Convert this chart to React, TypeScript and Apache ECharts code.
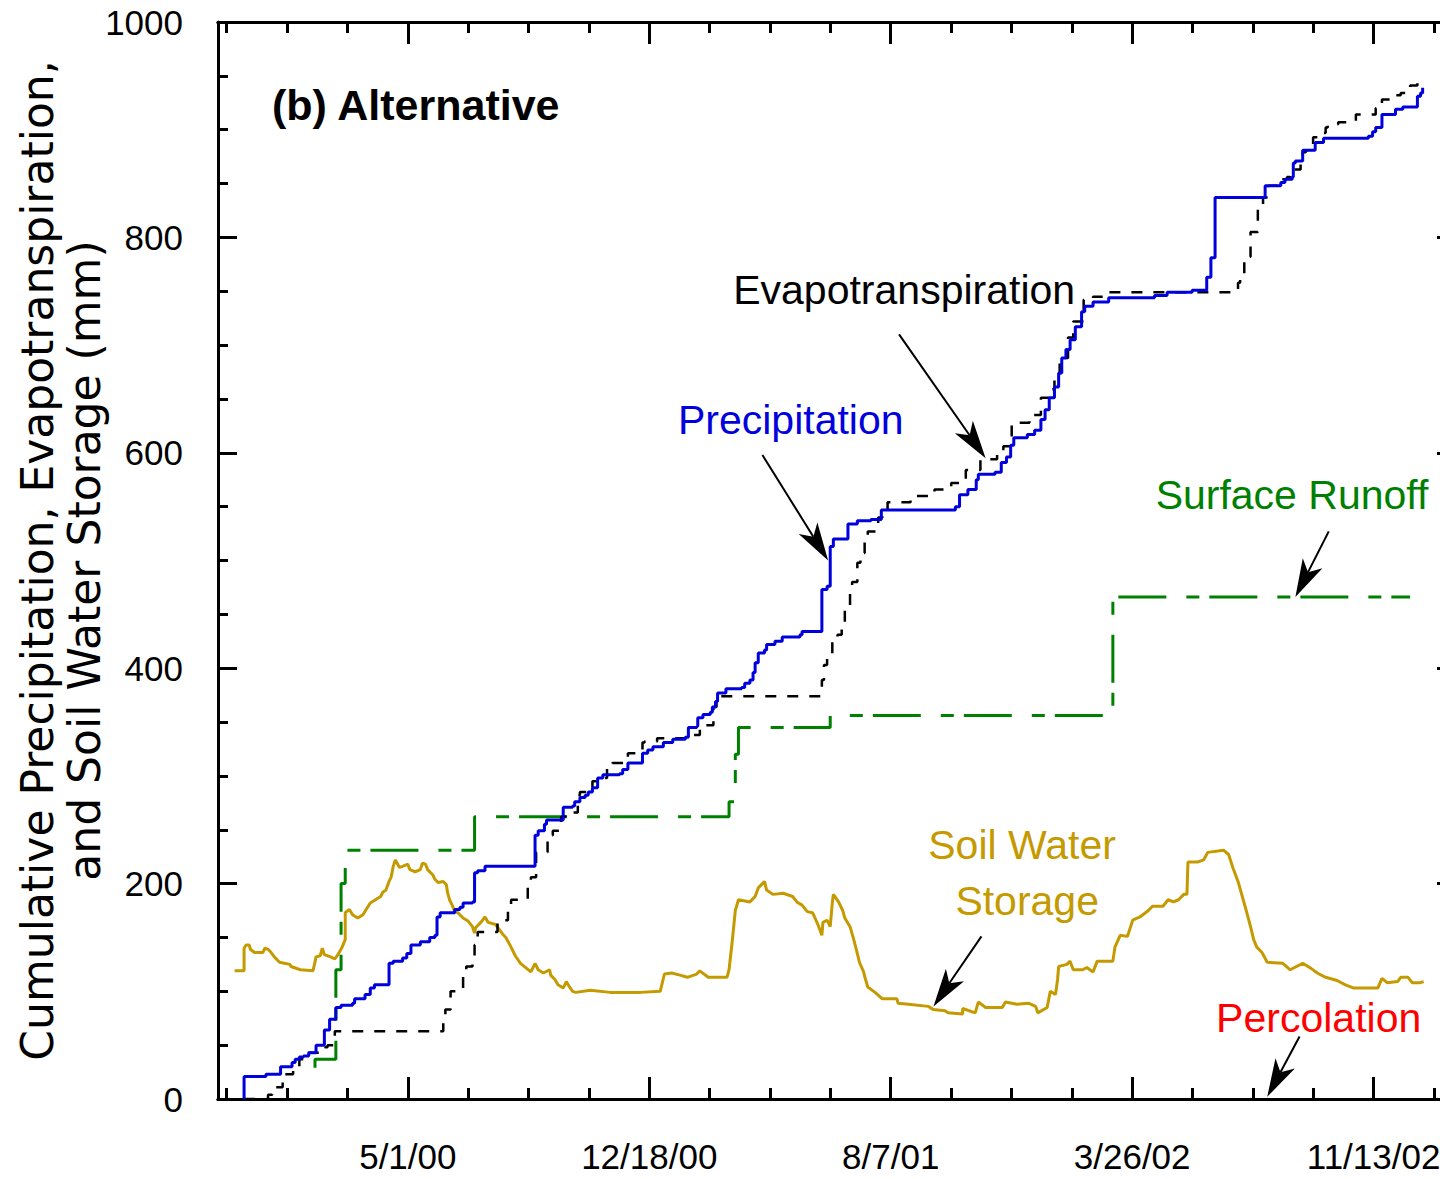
import React, { useEffect, useRef } from "react";
import * as echarts from "echarts";

// x values: days since 5/1/2000 ; y values: mm
const ORIGIN_UTC = Date.UTC(2000, 4, 1);
const X_MIN = -182; // 11/1/99
const X_MAX = 1005; // 1/31/03
const MAJOR_DAYS = 231.5;
const MINOR_DAYS = 57.875;
const Y_MIN = 0;
const Y_MAX = 1000;
const Y_INTERVAL = 200;

const precipitation: [number, number][] = [
  [-157, 0], [-157, 21], [-136, 23], [-122, 30], [-111, 34], [-108, 37], [-104, 39], [-100, 40], [-95, 43],
  [-88, 50], [-80, 64], [-75, 74], [-69, 85], [-64, 87], [-53, 89], [-51, 93], [-41, 97], [-36, 103],
  [-32, 106], [-18, 126], [-14, 128], [-5, 131], [-1, 135], [3, 143], [12, 146], [21, 150], [26, 152],
  [28, 169], [31, 173], [45, 176], [50, 178], [53, 182], [62, 183], [64, 210], [67, 212], [74, 216],
  [122, 245], [125, 249], [131, 255], [133, 259], [149, 271], [158, 272], [160, 276], [165, 280], [170, 282],
  [173, 285], [177, 289], [182, 298], [187, 301], [203, 302], [206, 306], [211, 312], [225, 321], [230, 324],
  [235, 327], [245, 331], [254, 334], [266, 336], [269, 345], [277, 346], [278, 354], [283, 357], [290, 359],
  [292, 364], [295, 369], [297, 377], [305, 381], [320, 382], [323, 386], [328, 389], [331, 396], [333, 405],
  [336, 414], [342, 417], [344, 422], [352, 425], [359, 429], [376, 431], [378, 434], [397, 473], [402, 476],
  [405, 513], [408, 520], [422, 534], [431, 537], [444, 538], [454, 547], [525, 550], [529, 561], [537, 566],
  [545, 575], [547, 580], [563, 582], [569, 591], [574, 596], [578, 607], [581, 614], [594, 617], [601, 621],
  [607, 631], [611, 640], [615, 651], [620, 661], [624, 674], [627, 688], [631, 696], [635, 705], [640, 717],
  [646, 731], [649, 736], [657, 740], [672, 744], [716, 746], [728, 749], [752, 751], [766, 763], [770, 781],
  [774, 837], [822, 848], [837, 851], [841, 854], [848, 856], [849, 869], [851, 871], [858, 881], [870, 888],
  [878, 892], [921, 894], [925, 898], [928, 902], [934, 914], [947, 919], [954, 921], [968, 931], [971, 934],
  [973, 939],
];

const evapotranspiration: [number, number][] = [
  [-157, 0], [-134, 4], [-130, 9], [-128, 11], [-120, 23], [-110, 27], [-104, 37], [-98, 43], [-79, 48],
  [-77, 50], [-70, 63], [34, 76], [36, 83], [41, 100], [53, 117], [56, 123], [62, 132], [64, 143], [67, 155],
  [86, 164], [89, 166], [96, 176], [99, 185], [115, 199], [118, 206], [123, 229], [134, 245], [139, 249],
  [147, 262], [151, 266], [163, 282], [165, 285], [177, 295], [181, 298], [191, 309], [196, 312], [210, 316],
  [211, 321], [225, 331], [227, 332], [239, 335], [269, 338], [280, 347], [293, 364], [296, 373], [299, 374],
  [397, 389], [399, 403], [402, 412], [407, 427], [412, 431], [416, 443], [419, 454], [424, 470], [426, 480],
  [431, 498], [434, 507], [438, 521], [441, 527], [451, 540], [455, 544], [460, 554], [482, 560], [505, 566],
  [521, 572], [535, 584], [549, 594], [565, 600], [571, 606], [579, 628], [596, 635], [607, 651], [615, 659],
  [620, 670], [625, 688], [633, 707], [638, 722], [648, 742], [657, 745], [668, 749], [796, 758], [798, 761],
  [802, 782], [808, 805], [815, 830], [820, 837], [825, 848], [837, 854], [843, 856], [846, 863], [856, 870],
  [858, 879], [861, 881], [865, 884], [868, 893], [877, 897], [880, 902], [882, 905], [892, 907], [909, 914],
  [928, 920], [934, 928], [945, 932], [952, 934], [961, 941], [968, 945],
];

const surfaceRunoff: [number, number][] = [
  [-89, 29], [-89, 37], [-69, 120], [-64, 200], [-60, 231], [64, 262], [308, 276], [314, 320], [317, 345],
  [405, 356], [676, 466], [961, 466],
];

const soilWaterStorage: [number, number][] = [
  [-166, 119], [-157, 119], [-157, 140], [-155, 143], [-152, 143], [-151, 139], [-147, 136], [-139, 136],
  [-137, 140], [-134, 139], [-131, 136], [-128, 132], [-123, 127], [-113, 125], [-112, 123], [-103, 120],
  [-91, 119], [-89, 127], [-88, 132], [-84, 133], [-82, 140], [-80, 134], [-74, 132], [-70, 130], [-67, 134],
  [-63, 141], [-60, 148], [-60, 173], [-56, 176], [-53, 171], [-48, 168], [-43, 171], [-40, 176], [-36, 182],
  [-31, 185], [-26, 188], [-24, 192], [-21, 194], [-18, 202], [-16, 206], [-14, 216], [-12, 222], [-8, 215],
  [-5, 216], [0, 218], [2, 213], [7, 211], [12, 213], [14, 219], [17, 218], [19, 213], [24, 208], [26, 204],
  [29, 201], [34, 202], [37, 199], [38, 192], [40, 185], [43, 179], [45, 174], [48, 173], [53, 168], [58, 165],
  [62, 160], [64, 154], [65, 159], [70, 164], [74, 169], [77, 164], [84, 162], [88, 157], [91, 153], [94, 150],
  [99, 141], [103, 133], [108, 126], [113, 122], [118, 118], [122, 126], [125, 120], [130, 117], [136, 120],
  [137, 115], [141, 111], [144, 106], [149, 103], [152, 109], [155, 104], [158, 100], [161, 99], [175, 101],
  [194, 99], [223, 99], [242, 100], [246, 116], [253, 117], [261, 115], [268, 113], [277, 116], [280, 119],
  [288, 113], [306, 113], [308, 120], [311, 146], [314, 175], [317, 185], [328, 183], [333, 188], [336, 196],
  [342, 202], [344, 194], [350, 190], [360, 191], [369, 188], [373, 183], [378, 180], [383, 174], [388, 173],
  [390, 169], [394, 160], [397, 152], [398, 164], [402, 166], [405, 160], [407, 182], [408, 190], [413, 183],
  [417, 175], [419, 168], [424, 160], [427, 150], [430, 139], [433, 127], [437, 118], [438, 114], [441, 104],
  [448, 99], [455, 93], [469, 93], [470, 89], [480, 88], [499, 86], [504, 83], [515, 82], [518, 80], [532, 79],
  [532, 84], [544, 80], [547, 90], [554, 85], [570, 85], [573, 90], [584, 88], [595, 89], [602, 86], [604, 80],
  [613, 85], [616, 100], [621, 97], [623, 111], [624, 123], [632, 125], [635, 128], [638, 120], [647, 120],
  [651, 122], [657, 118], [661, 128], [676, 128], [678, 141], [683, 152], [690, 151], [695, 166], [702, 169],
  [710, 175], [714, 179], [724, 179], [729, 185], [734, 183], [739, 185], [744, 190], [747, 190], [748, 220],
  [757, 220], [763, 222], [767, 229], [782, 231], [787, 227], [791, 215], [796, 202], [801, 185], [805, 171],
  [808, 160], [811, 148], [814, 141], [819, 136], [824, 127], [839, 126], [846, 120], [858, 126], [865, 122],
  [872, 117], [880, 113], [891, 110], [899, 106], [907, 103], [930, 103], [934, 112], [939, 108], [949, 109],
  [952, 113], [959, 113], [963, 108], [971, 108], [974, 109],
];

const percolation: [number, number][] = [
  [-157, 0], [968, 0],
];

// annotation labels: [text, day, mm, color]
const labelTexts: [string, number, number, string][] = [
  ["Evapotranspiration", 312, 751, "#000000"],
  ["Precipitation", 259, 630, "#0000DD"],
  ["Surface Runoff", 717, 561, "#008000"],
  ["Soil Water", 499, 236, "#C49A00"],
  ["Storage", 525, 184, "#C49A00"],
  ["Percolation", 775, 75, "#FF0000"],
];
// arrows: tail(day, mm) -> tip(day, mm)
const arrowTails: [number, number][] = [[471, 710], [340, 598], [883, 527], [550, 151], [855, 58]];
const arrowTips: [number, number][] = [[554, 595], [403, 500], [851, 466], [504, 86], [824, 2]];

const TICK_FONT = "'Liberation Sans', Arial, sans-serif";
const NOTE_FONT = "'Liberation Sans', Arial, sans-serif";

function fmtDate(v: number): string {
  const k = v / MAJOR_DAYS;
  if (Math.abs(k - Math.round(k)) > 1e-6) return "";
  const d = new Date(ORIGIN_UTC + Math.floor(v + 1e-6) * 86400000);
  const yy = String(d.getUTCFullYear() % 100).padStart(2, "0");
  return `${d.getUTCMonth() + 1}/${d.getUTCDate()}/${yy}`;
}

export default function App() {
  const ref = useRef<HTMLDivElement>(null);
  useEffect(() => {
    if (!ref.current) return;
    const chart = echarts.init(ref.current, undefined, { renderer: "svg" });
    const axisLine = { show: true, onZero: false, lineStyle: { color: "#000", width: 3 } };
    const xBase: any = {
      type: "value",
      min: X_MIN,
      max: X_MAX,
      splitLine: { show: false },
      axisLine,
    };
    const majorX = (position: string, labels: boolean) => ({
      ...xBase,
      position,
      minInterval: MAJOR_DAYS,
      maxInterval: MAJOR_DAYS,
      axisTick: { show: true, inside: true, length: 22, lineStyle: { color: "#000", width: 3 } },
      axisLabel: labels
        ? {
            show: true,
            margin: 40,
            formatter: fmtDate,
            showMinLabel: false,
            showMaxLabel: false,
            color: "#000",
            fontSize: 35,
            fontFamily: TICK_FONT,
          }
        : { show: false },
    });
    const minorX = (position: string) => ({
      ...xBase,
      position,
      minInterval: MINOR_DAYS,
      maxInterval: MINOR_DAYS,
      axisTick: { show: true, inside: true, length: 11, lineStyle: { color: "#000", width: 3 } },
      axisLabel: { show: false },
    });
    const yBase = (position: string, labels: boolean): any => ({
      type: "value",
      position,
      min: Y_MIN,
      max: Y_MAX,
      interval: Y_INTERVAL,
      splitLine: { show: false },
      axisLine,
      axisTick: { show: true, inside: true, length: 19, lineStyle: { color: "#000", width: 3 } },
      minorTick: { show: true, splitNumber: 4, length: 10, lineStyle: { color: "#000", width: 3 } },
      axisLabel: labels
        ? {
            show: true,
            margin: 35,
            color: "#000",
            fontSize: 35,
            fontFamily: TICK_FONT,
            formatter: (v: number) => String(v),
          }
        : { show: false },
    });
    const option: any = {
      animation: false,
      backgroundColor: "#fff",
      grid: { left: 218, top: 22, width: 1238, height: 1077, containLabel: false, outerBoundsMode: "none" },
      xAxis: [majorX("bottom", true), minorX("bottom"), majorX("top", false), minorX("top")],
      yAxis: [
        {
          ...yBase("left", true),
          name: "Cumulative Precipitation, Evapotranspiration,\nand Soil Water Storage (mm)",
          nameLocation: "middle",
          nameRotate: 90,
          nameGap: 110,
          nameMoveOverlap: false,
          nameTextStyle: { color: "#000", fontSize: 44, lineHeight: 47, fontFamily: "'DejaVu Sans', sans-serif" },
        },
        yBase("right", false),
      ],
      series: [
        {
          name: "Percolation",
          type: "line",
          data: percolation,
          showSymbol: false,
          z: -1,
          lineStyle: { color: "#FF0000", width: 2 },
          itemStyle: { color: "#FF0000" },
        },
        {
          name: "Soil Water Storage",
          type: "line",
          data: soilWaterStorage,
          showSymbol: false,
          lineStyle: { color: "#C49A00", width: 3 },
          itemStyle: { color: "#C49A00" },
        },
        {
          name: "Surface Runoff",
          type: "line",
          step: "end",
          data: surfaceRunoff,
          showSymbol: false,
          lineStyle: { color: "#008000", width: 3, type: [48, 20, 13, 10] },
          itemStyle: { color: "#008000" },
        },
        {
          name: "Evapotranspiration",
          type: "line",
          step: "end",
          data: evapotranspiration,
          showSymbol: false,
          lineStyle: { color: "#000000", width: 2.5, type: [11, 11] },
          itemStyle: { color: "#000" },
        },
        {
          name: "Precipitation",
          type: "line",
          step: "end",
          data: precipitation,
          showSymbol: false,
          lineStyle: { color: "#0000DD", width: 3 },
          itemStyle: { color: "#0000DD" },
        },
      ],
    };
    chart.setOption(option);

    const toPx = (p: [number, number]) =>
      chart.convertToPixel({ xAxisIndex: 0, yAxisIndex: 0 } as any, p) as unknown as number[];
    const graphics: any[] = [];
    labelTexts.forEach(([text, d, v, color]) => {
      const [x, y] = toPx([d, v]);
      graphics.push({
        type: "text",
        x,
        y,
        z: 100,
        style: { text, fill: color, fontSize: 41, fontFamily: NOTE_FONT, align: "left", verticalAlign: "middle" },
      });
    });
    arrowTails.forEach((tail, i) => {
      const [tx, ty] = toPx(tail);
      const [hx, hy] = toPx(arrowTips[i]);
      const dx = tx - hx;
      const dy = ty - hy;
      const len = Math.hypot(dx, dy);
      const ux = dx / len;
      const uy = dy / len;
      const px = -uy;
      const py = ux;
      const L = 38;
      const W = 11;
      const N = 28;
      graphics.push({
        type: "line",
        z: 100,
        shape: { x1: tx, y1: ty, x2: hx + ux * N, y2: hy + uy * N },
        style: { stroke: "#000", lineWidth: 2 },
      });
      graphics.push({
        type: "polygon",
        z: 100,
        shape: {
          points: [
            [hx, hy],
            [hx + ux * L + px * W, hy + uy * L + py * W],
            [hx + ux * N, hy + uy * N],
            [hx + ux * L - px * W, hy + uy * L - py * W],
          ],
        },
        style: { fill: "#000" },
      });
    });
    graphics.push({
      type: "text",
      x: 272,
      y: 105,
      z: 100,
      style: {
        text: "(b) Alternative",
        fill: "#000",
        fontSize: 43,
        fontWeight: "bold",
        fontFamily: "'Liberation Sans', Arial, sans-serif",
        align: "left",
        verticalAlign: "middle",
      },
    });
    chart.setOption({ graphic: graphics });
    return () => chart.dispose();
  }, []);
  return (
    <div
      style={{
        position: "absolute",
        left: 0,
        top: 0,
        width: 1440,
        height: 1179,
        overflow: "hidden",
        background: "#fff",
      }}
    >
      <div ref={ref} style={{ width: 1470, height: 1179 }} />
    </div>
  );
}
